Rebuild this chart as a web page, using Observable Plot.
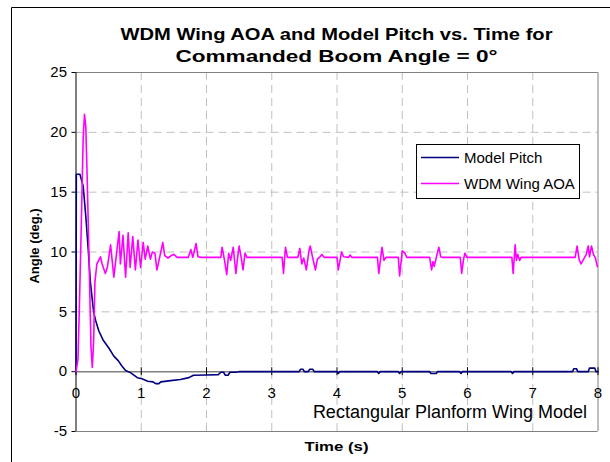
<!DOCTYPE html>
<html>
<head>
<meta charset="utf-8">
<script src="https://cdn.jsdelivr.net/npm/d3@7"></script>
<script src="https://cdn.jsdelivr.net/npm/@observablehq/plot@0.6"></script>
<style>
  html, body { margin: 0; padding: 0; background: white; }
  #chart svg { display: block; }
</style>
</head>
<body>
<div id="chart"></div>
<script>
const titleLines = ["WDM Wing AOA and Model Pitch vs. Time for", "Commanded Boom Angle = 0°"];
const xLabel = "Time (s)";
const yLabel = "Angle (deg.)";
const note = "Rectangular Planform Wing Model";
const seriesNames = ["Model Pitch", "WDM Wing AOA"];
const seriesColors = ["#000080", "#ff00ff"];
const xTicks = [0, 1, 2, 3, 4, 5, 6, 7, 8];
const yTicks = [-5, 0, 5, 10, 15, 20, 25];
const xGrid = [1, 2, 3, 4, 5, 6, 7];
const yGrid = [5, 10, 15, 20];

const pitchT = [0,0.005,0.06,0.11,0.15,0.19,0.22,0.27,0.30,0.35,0.42,0.50,0.58,0.65,0.70,0.76,0.84,0.94,1.01,1.10,1.18,1.22,1.27,1.30,1.45,1.60,1.73,1.80,2.0,2.18,2.22,2.26,2.29,2.33,2.36,2.45,2.5,3.42,3.44,3.48,3.50,3.56,3.58,3.63,3.65,4.0,4.02,4.04,4.62,4.64,4.66,4.94,4.96,4.98,5.42,5.44,5.52,5.54,5.88,5.90,5.92,6.67,6.69,6.71,7.61,7.63,7.67,7.69,7.85,7.87,7.95,7.97,8.0];
const pitchV = [0,16.5,16.5,15.5,13.0,10.0,7.5,5.0,4.3,3.4,2.6,2.0,1.3,0.9,0.5,0.1,-0.1,-0.5,-0.6,-0.8,-0.85,-1.0,-1.0,-0.85,-0.75,-0.65,-0.5,-0.3,-0.28,-0.25,-0.05,-0.05,-0.3,-0.3,-0.05,-0.05,0,0,0.2,0.2,0,0,0.2,0.2,0,0,-0.15,0,0,-0.15,0,0,-0.15,0,0,-0.15,-0.15,0,0,-0.15,0,0,-0.15,0,0,0.25,0.25,0,0,0.3,0.3,0,0];

const aoaT = [0,0.03,0.05,0.08,0.11,0.13,0.15,0.17,0.20,0.23,0.25,0.27,0.29,0.32,0.375,0.40,0.45,0.48,0.53,0.58,0.66,0.68,0.72,0.76,0.80,0.83,0.87,0.91,0.95,0.99,1.03,1.06,1.10,1.14,1.17,1.21,1.24,1.30,1.33,1.36,1.41,1.46,1.50,1.55,1.72,1.76,1.79,1.84,1.87,1.92,2.22,2.24,2.27,2.31,2.34,2.37,2.41,2.45,2.48,2.50,2.53,2.56,2.59,2.62,3.16,3.18,3.21,3.24,3.40,3.43,3.46,3.49,3.53,3.57,3.59,3.62,3.67,3.70,3.74,3.77,3.80,4.00,4.02,4.07,4.10,4.18,4.20,4.23,4.62,4.64,4.69,4.72,4.75,4.94,4.96,5.00,5.04,5.07,5.42,5.45,5.47,5.49,5.52,5.56,5.59,5.61,5.89,5.91,5.94,5.96,5.99,6.68,6.70,6.73,6.75,6.77,6.80,6.82,7.65,7.68,7.71,7.74,7.77,7.82,7.85,7.87,7.90,7.93,7.96,7.99];
const aoaV = [0,1.0,5,12,19.5,21.5,20.5,16.5,9.5,2.0,0.35,2.5,7.5,9.0,9.6,9.0,8.2,8.7,10.6,7.9,11.7,9.0,11.4,7.9,11.6,8.7,11.3,8.5,11.0,8.7,10.8,9.4,10.5,9.4,10.0,9.9,8.5,10.0,10.8,9.7,9.5,9.7,9.8,9.55,9.55,10.2,9.55,10.7,9.6,9.55,9.55,10.4,9.5,8.1,9.9,9.3,10.4,8.2,9.7,10.5,9.6,8.5,9.9,9.55,9.55,8.2,10.4,9.55,9.55,10.3,9.0,9.5,8.5,10.1,10.5,9.7,8.5,9.4,9.6,9.8,9.55,9.55,8.5,10.0,9.6,9.55,9.75,9.55,9.55,8.2,10.4,9.3,9.55,9.55,8.0,10.1,9.9,9.55,9.55,8.5,9.2,8.8,9.5,10.4,9.6,9.55,9.55,8.2,9.4,9.9,9.55,9.55,8.2,10.6,9.3,9.8,9.3,9.55,9.55,10.5,9.4,9.0,9.3,9.8,10.5,9.6,10.5,9.8,9.5,8.8];

const pitch = pitchT.map((t, i) => ({t, v: pitchV[i]}));
const aoa = aoaT.map((t, i) => ({t, v: aoaV[i]}));

const FONT = "Arial, 'Liberation Sans', sans-serif";
const gridStyle = {stroke: "#c0c0c0", strokeOpacity: 1, strokeWidth: 1, strokeDasharray: "8,5"};

const chart = Plot.plot({
  width: 610,
  height: 462,
  marginLeft: 75.5,
  marginRight: 12.5,
  marginTop: 72,
  marginBottom: 31,
  style: {fontFamily: FONT, background: "white", color: "black", overflow: "visible"},
  x: {domain: [0, 8], axis: null},
  y: {domain: [-5, 25], axis: null},
  marks: [
    Plot.ruleX(xGrid, {x: d => d, ...gridStyle}),
    Plot.ruleY(yGrid, {y: d => d, ...gridStyle}),
    Plot.ruleY([25, -5], {y: d => d, stroke: "#808080", strokeWidth: 1}),
    Plot.ruleX([8], {x: d => d, stroke: "#808080", strokeWidth: 1}),
    Plot.ruleY([0], {y: d => d, stroke: "#808080", strokeWidth: 1.5}),
    Plot.ruleX(xTicks, {x: d => d, y1: -0.33, y2: 0.33, stroke: "black", strokeWidth: 1}),
    Plot.text(xTicks, {x: d => d, y: 0, dy: 22, text: d => String(d), fontSize: 15, fill: "black"}),
    Plot.axisY(yTicks, {anchor: "left", tickSize: 4, tickPadding: 5, fontSize: 15, label: null, stroke: "black", fill: "black", tickFormat: d => String(d)}),
    Plot.ruleX([0], {x: d => d, stroke: "black", strokeWidth: 1}),
    Plot.line(pitch, {x: "t", y: "v", stroke: seriesColors[0], strokeWidth: 1.6}),
    Plot.line(aoa, {x: "t", y: "v", stroke: seriesColors[1], strokeWidth: 1.6})
  ]
});

const svg = d3.select(chart);
// outer chart border (left & top visible)
svg.append("path").attr("d", "M11.5,462 V7.5 H610").attr("fill", "none").attr("stroke", "black").attr("stroke-width", 1);

// titles (reference text is horizontally stretched)
const titleWidths = [432, 322];
titleLines.forEach((s, i) => {
  svg.append("text").attr("x", 336.5).attr("y", 40 + i * 22)
    .attr("text-anchor", "middle").attr("font-family", FONT).attr("font-size", 17)
    .attr("font-weight", "bold").attr("fill", "black")
    .attr("textLength", titleWidths[i]).attr("lengthAdjust", "spacingAndGlyphs").text(s);
});
svg.append("text").attr("x", 336.5).attr("y", 451).attr("text-anchor", "middle")
  .attr("font-family", FONT).attr("font-size", 13).attr("font-weight", "bold")
  .attr("textLength", 64).attr("lengthAdjust", "spacingAndGlyphs").text(xLabel);
svg.append("text").attr("transform", "translate(38.5,246) rotate(-90)").attr("text-anchor", "middle")
  .attr("font-family", FONT).attr("font-size", 13).attr("font-weight", "bold").text(yLabel);
svg.append("text").attr("x", 587).attr("y", 418).attr("text-anchor", "end")
  .attr("font-family", FONT).attr("font-size", 18).attr("fill", "black").text(note);

// legend
const lg = svg.append("g");
lg.append("rect").attr("x", 416.5).attr("y", 144.5).attr("width", 163).attr("height", 54)
  .attr("fill", "white").attr("stroke", "black").attr("stroke-width", 1);
seriesNames.forEach((name, i) => {
  const yy = 157.5 + i * 26;
  lg.append("line").attr("x1", 421).attr("x2", 459).attr("y1", yy).attr("y2", yy)
    .attr("stroke", seriesColors[i]).attr("stroke-width", 1.6);
  lg.append("text").attr("x", 464).attr("y", yy + 5.5).attr("text-anchor", "start")
    .attr("font-family", FONT).attr("font-size", 15).attr("fill", "black").text(name);
});

document.getElementById("chart").appendChild(chart);
</script>
</body>
</html>
